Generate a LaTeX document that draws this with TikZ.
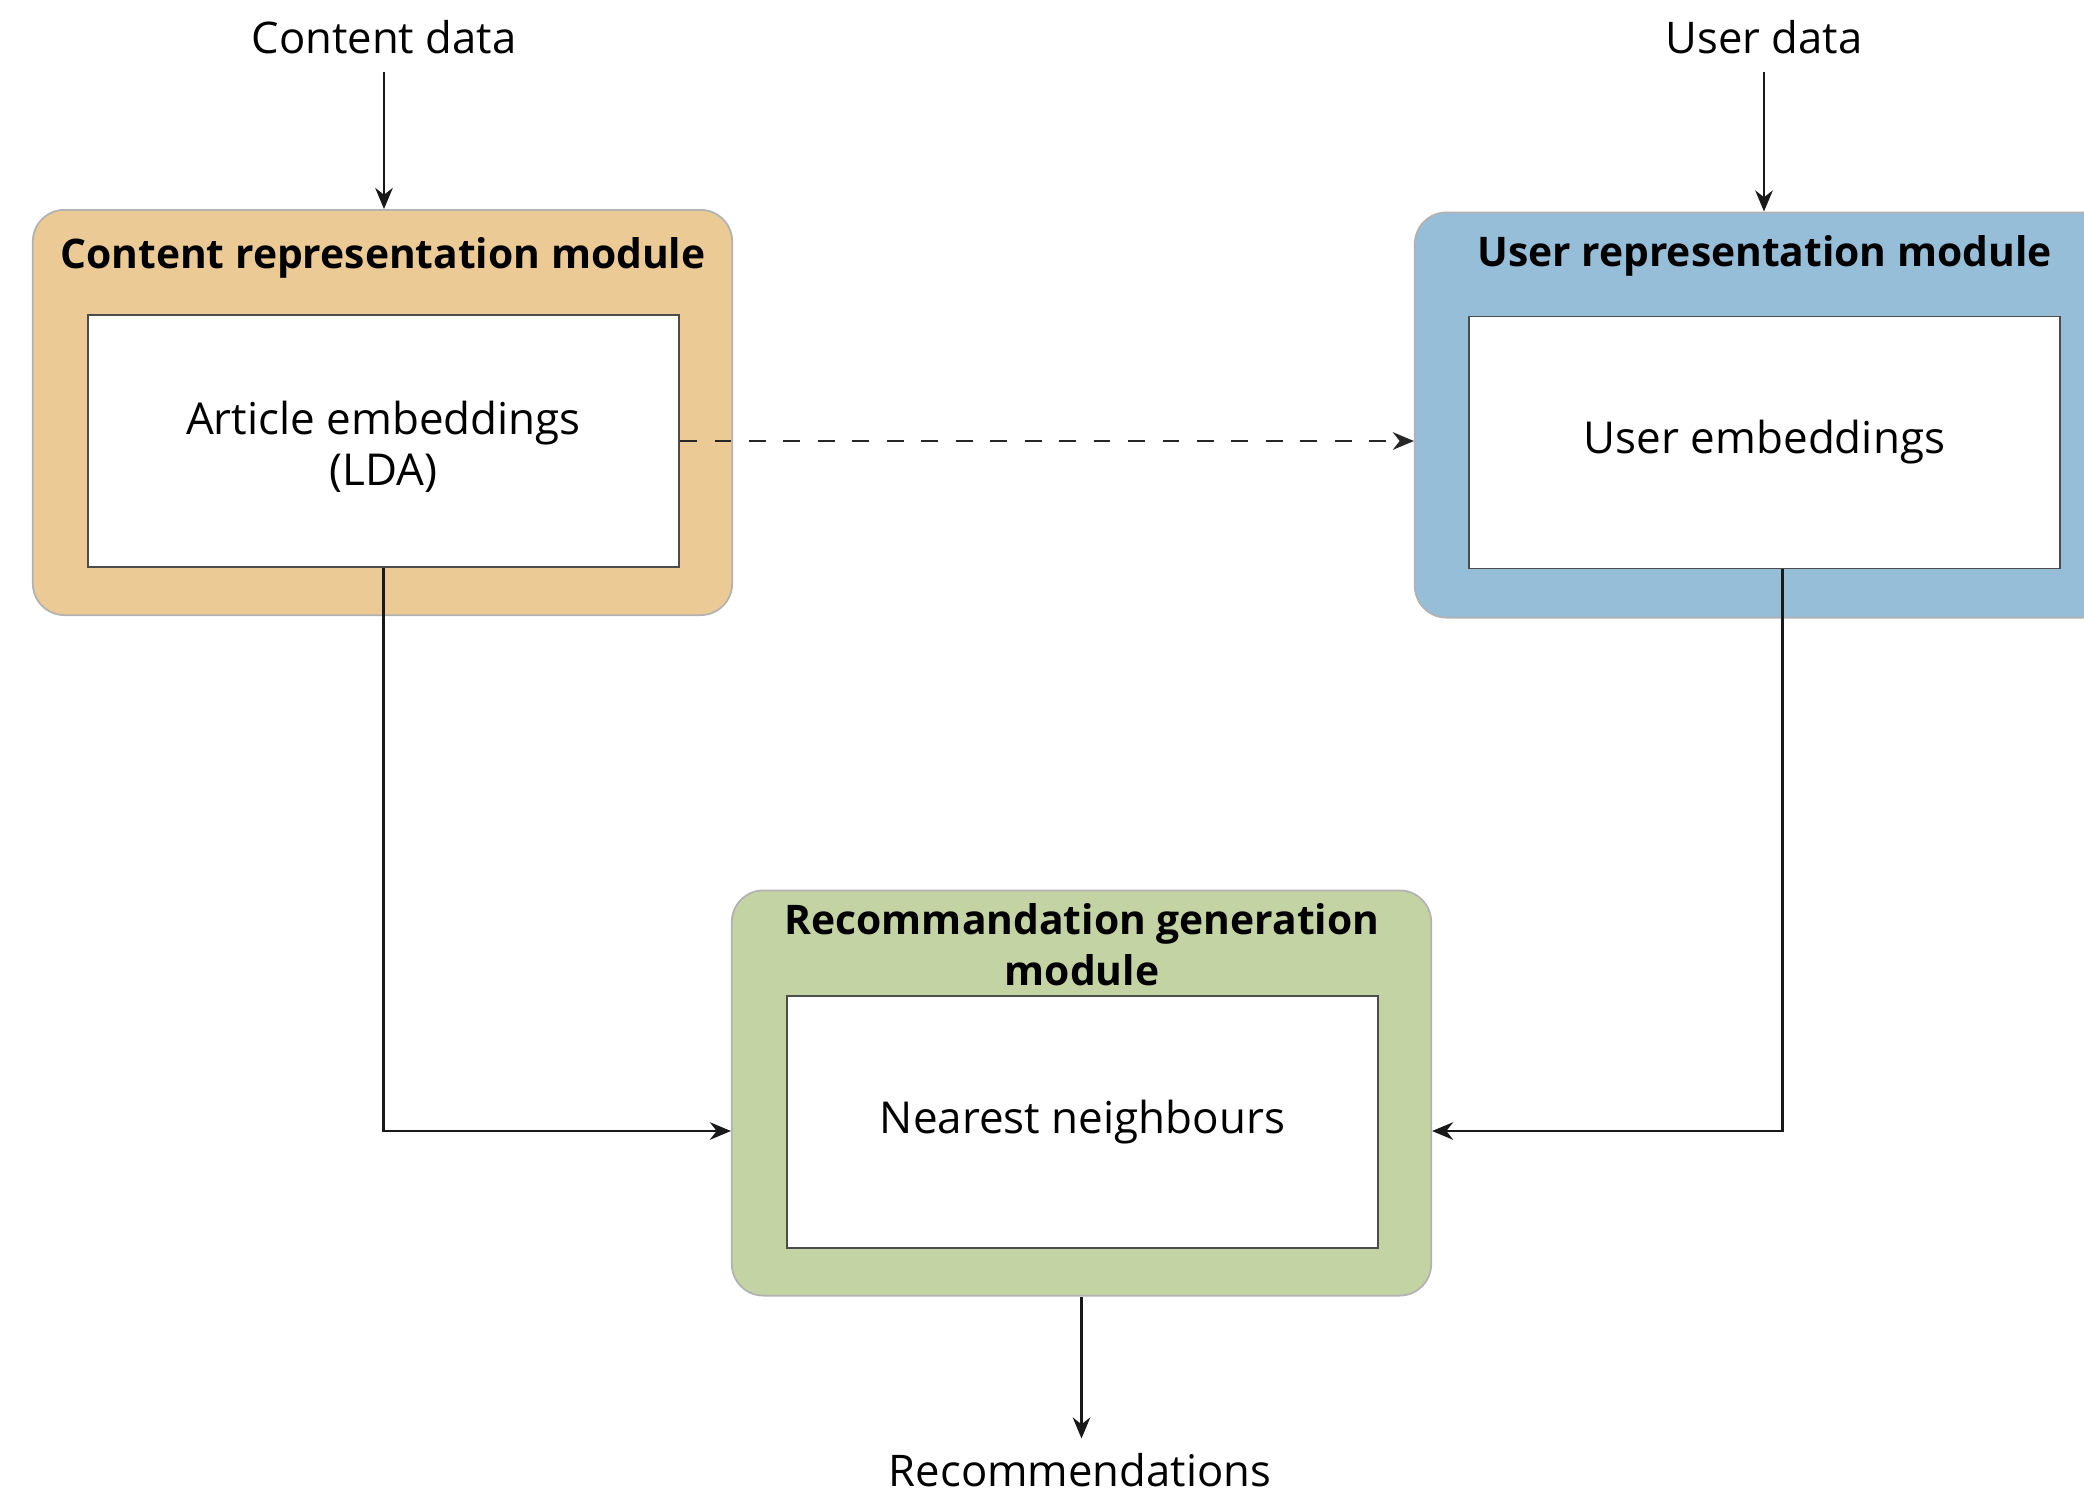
\documentclass[tikz,border=0pt]{standalone}
\usepackage{fontspec}
\setmainfont{Open Sans}
\usetikzlibrary{calc,positioning,arrows.meta}
\definecolor{modorange}{RGB}{235,202,150}
\definecolor{modblue}{RGB}{150,190,216}
\definecolor{modgreen}{RGB}{196,211,164}
\tikzset{
  module/.style={draw=black!30,line width=0.5pt,rounded corners=9pt,inner sep=0pt,
                 minimum width=6.99cm,minimum height=4.05cm},
  embbox/.style={draw=black!70,line width=0.5pt,fill=white,inner sep=0pt,align=center,
                 minimum width=5.91cm,minimum height=2.52cm,
                 font=\fontsize{12.5}{14.5}\selectfont},
  modtitle/.style={align=center,inner sep=0pt,font=\fontsize{11.6}{14.5}\selectfont\bfseries},
  io/.style={inner sep=0pt,font=\fontsize{12.4}{14.5}\selectfont},
  arr/.style={-{Stealth[length=6pt,width=5pt]},line width=0.65pt,black!90}
}

\begin{document}
\begin{tikzpicture}[x=0.01cm,y=-0.01cm]
  \useasboundingbox (0,0) rectangle (2084,1487);
  % modules
  \node[module,fill=modorange] (crm) at (382.5,412.5) {};
  \node[module,fill=modblue]   (urm) at (1764.5,415) {};
  \node[module,fill=modgreen]  (rgm) at (1081.5,1093) {};
  \node[embbox] (ae) at (383.5,441)   {\rule{0pt}{13pt}Article embeddings\\(LDA)};
  \node[embbox] (ue) at (1764.5,442.5){User embeddings};
  \node[embbox] (nn) at (1082.5,1122) {Nearest neighbours};
  \node[modtitle] (crmt) at ($(crm.north)!0.47!(ae.north)$) {Content representation module};
  \node[modtitle] (urmt) at ($(urm.north)!0.43!(ue.north)$) {User representation module};
  \node[modtitle] (rgmt) at ($(rgm.north)!0.52!(nn.north)$) {Recommandation generation\\module};
  % inputs and output
  \node[io] (cd)  at (384,37)   {Content data};
  \node[io] (ud)  at (1764,37)  {User data};
  \node[io] (rec) at (1080,1470){Recommendations};
  \draw[arr] (cd.south)++(0,18) coordinate (cdin) -- (cdin |- crm.north);
  \draw[arr] (ud.south)++(0,18) coordinate (udin) -- (udin |- urm.north);
  \draw[arr] (rgm.south) -- ++(0,142) coordinate (recout);
  % connectors
  \draw[arr,dash pattern=on 4.8pt off 5pt,line width=0.8pt,black!85] (ae.east) -- (ae.east -| urm.west);
  \draw[arr] (ae.south) |- ([yshift=-0.09cm]nn.west -| rgm.west);
  \draw[arr] ([xshift=0.18cm]ue.south) |- ([yshift=-0.09cm]nn.east -| rgm.east);
\end{tikzpicture}
\end{document}
